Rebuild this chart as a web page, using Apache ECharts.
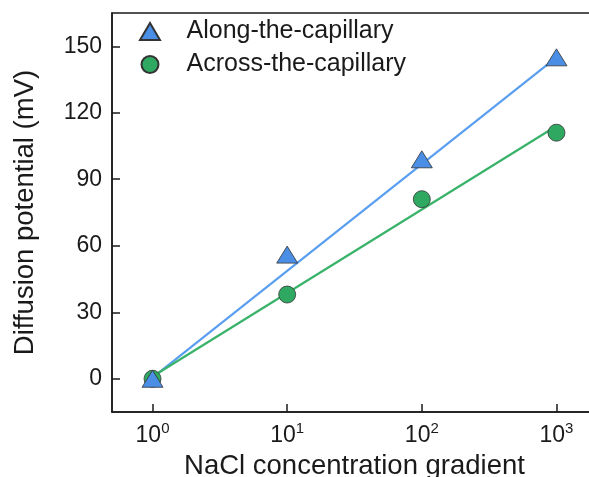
<!DOCTYPE html>
<html>
<head>
<meta charset="utf-8">
<script src="https://cdn.jsdelivr.net/npm/echarts@6/dist/echarts.min.js"></script>
<style>
html,body{margin:0;padding:0;background:#fff;}
#chart{width:589px;height:477px;}
</style>
</head>
<body>
<div id="chart"></div>
<script>
// ---- data ----
const gradients = [1, 10, 100, 1000];            // NaCl concentration gradient
const alongValues = [0, 56, 99, 145];            // Along-the-capillary (mV)
const acrossValues = [0, 38, 81, 111];           // Across-the-capillary (mV)
const fitEnds = [1, 1000];                       // x of fitted line ends
const alongFit = [0.5, 145];                     // fitted line values at ends
const acrossFit = [1, 114];
const yTicks = [0, 30, 60, 90, 120, 150];
const seriesNames = ['Along-the-capillary', 'Across-the-capillary'];

const pair = (xs, ys) => xs.map((x, i) => [x, ys[i]]);
const ink = '#1a1a1a';
const blueFill = '#4a8ee6', blueLine = '#5a9ef0';
const greenFill = '#2fa862', greenLine = '#3ab36a';
const triPath = 'path://M0,17L10,0L20,17Z';

const chart = echarts.init(document.getElementById('chart'), null, {renderer: 'canvas'});
chart.setOption({
  animation: false,
  backgroundColor: '#fff',
  textStyle: {fontFamily: 'Liberation Sans, Arial, sans-serif'},
  grid: {left: 112, top: 13, bottom: 65, width: 485, show: true,
         outerBoundsMode: 'none', containLabel: false,
         borderColor: ink, borderWidth: 1.5, backgroundColor: 'transparent'},
  legend: {
    data: [{name: seriesNames[0], icon: triPath}, {name: seriesNames[1], icon: 'circle'}],
    orient: 'vertical', left: 139, top: 19, padding: 0,
    itemWidth: 21, itemHeight: 17, itemGap: 8,
    textStyle: {fontSize: 25, color: ink, lineHeight: 25, padding: [0, 0, 0, 21]},
    selectedMode: false
  },
  xAxis: {
    type: 'log', logBase: 10, min: 0.5, max: 2000,
    name: 'NaCl concentration gradient', nameLocation: 'middle', nameGap: 34,
    nameTextStyle: {fontSize: 27.5, color: ink},
    axisLine: {onZero: false, lineStyle: {color: ink, width: 1.5}},
    axisTick: {inside: true, length: 8, lineStyle: {color: ink, width: 1.5}},
    axisLabel: {
      margin: 9, showMinLabel: false, showMaxLabel: false,
      formatter: v => '{b|10}{s|' + Math.round(Math.log10(v)) + '}',
      rich: {
        b: {fontSize: 23, lineHeight: 30, color: ink},
        s: {fontSize: 15, lineHeight: 15, verticalAlign: 'top', color: ink}
      }
    },
    splitLine: {show: false}, minorTick: {show: false}
  },
  yAxis: {
    type: 'value', min: -15, max: 165,
    name: 'Diffusion potential (mV)', nameLocation: 'middle', nameGap: 73, nameRotate: 90,
    nameTextStyle: {fontSize: 27.5, color: ink},
    axisLine: {onZero: false, lineStyle: {color: ink, width: 1.5}},
    axisTick: {inside: true, length: 8, customValues: yTicks, lineStyle: {color: ink, width: 1.5}},
    axisLabel: {margin: 10, fontSize: 23, color: ink, customValues: yTicks},
    splitLine: {show: false}
  },
  series: [
    {name: 'alongFit', type: 'line', data: pair(fitEnds, alongFit), symbol: 'none',
     lineStyle: {color: blueLine, width: 2.2}, z: 2, silent: true},
    {name: 'acrossFit', type: 'line', data: pair(fitEnds, acrossFit), symbol: 'none',
     lineStyle: {color: greenLine, width: 2.2}, z: 2, silent: true},
    {name: seriesNames[1], type: 'scatter', data: pair(gradients, acrossValues),
     symbol: 'circle', symbolSize: 17, z: 3,
     itemStyle: {color: greenFill, borderColor: '#333', borderWidth: 0.8, opacity: 1}},
    {name: seriesNames[0], type: 'scatter', data: pair(gradients, alongValues),
     symbol: triPath, symbolSize: [21, 17], symbolKeepAspect: false, z: 4,
     itemStyle: {color: blueFill, borderColor: '#333', borderWidth: 0.8, opacity: 1}}
  ]
});
</script>
</body>
</html>
